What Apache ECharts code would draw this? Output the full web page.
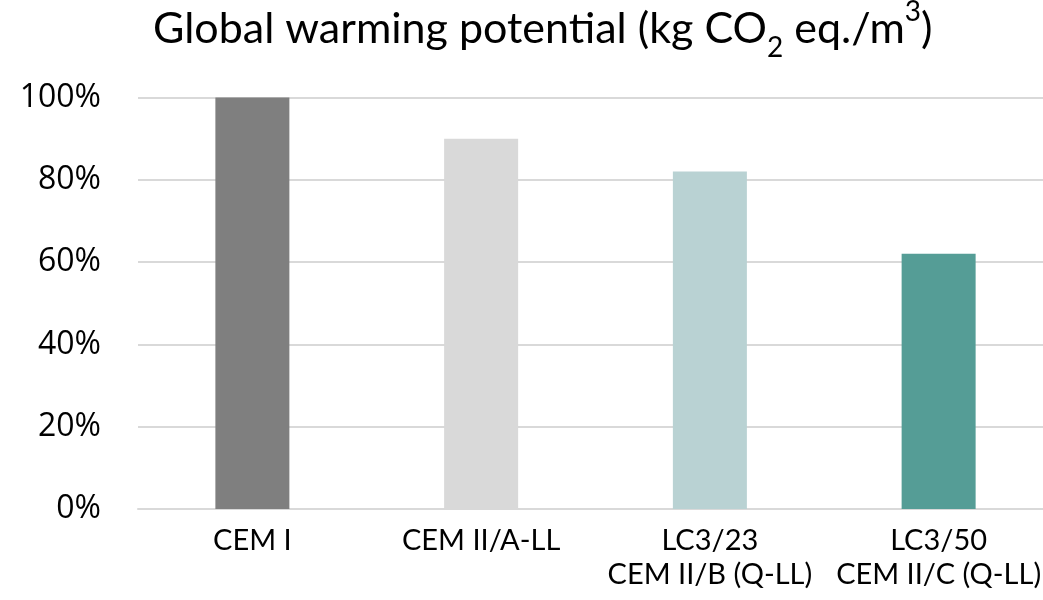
<!DOCTYPE html>
<html>
<head>
<meta charset="utf-8">
<title>Global warming potential</title>
<script src="https://cdn.jsdelivr.net/npm/echarts@6/dist/echarts.min.js"></script>
<style>
  html, body { margin: 0; padding: 0; background: #ffffff; overflow: hidden; }
  #chart { width: 1043px; height: 600px; }
</style>
</head>
<body>
<div id="chart"></div>
<script>
// Cement types and their relative global warming potential (% of CEM I)
const categories = ['CEM I', 'CEM II/A-LL', 'LC3/23\nCEM II/B (Q-LL)', 'LC3/50\nCEM II/C (Q-LL)'];
const gwpValues = [100, 90, 82, 62];
const barColors = ['#7f7f7f', '#d9d9d9', '#b9d2d3', '#559d96'];
const yTicks = [0, 20, 40, 60, 80, 100];

const chart = echarts.init(document.getElementById('chart'), null, { renderer: 'canvas' });

chart.setOption({
  backgroundColor: '#ffffff',
  animation: false,
  title: {
    text: 'Global warming potential (kg CO{sub|2} eq./m{sup|3})',
    left: 148,
    top: -3,
    textStyle: {
      fontFamily: 'Lato',
      fontSize: 43,
      fontWeight: 'normal',
      color: '#000000',
      lineHeight: 54,
      rich: {
        sub: { fontFamily: 'Lato', fontSize: 28, color: '#000000', verticalAlign: 'bottom', lineHeight: 34, padding: [0, 0, -6, 0] },
        sup: { fontFamily: 'Lato', fontSize: 28, color: '#000000', verticalAlign: 'top', lineHeight: 34, padding: [-4, 0, 0, 0] }
      }
    }
  },
  // plot area continues slightly past the right edge of the canvas
  grid: { left: 138, width: 915, top: 97.5, bottom: 91, outerBoundsMode: 'none' },
  xAxis: {
    type: 'category',
    data: categories,
    axisTick: { show: false },
    axisLine: { show: true, lineStyle: { color: '#d9d9d9', width: 2 } },
    axisLabel: {
      interval: 0,
      margin: 15,
      fontFamily: 'Lato',
      fontSize: 29,
      lineHeight: 34,
      color: '#000000'
    }
  },
  yAxis: {
    type: 'value',
    min: yTicks[0],
    max: yTicks[yTicks.length - 1],
    interval: 20,
    axisLine: { show: false },
    axisTick: { show: false },
    splitLine: { show: true, lineStyle: { color: '#d9d9d9', width: 2 } },
    axisLabel: {
      margin: 37,
      fontFamily: 'Open Sans',
      fontSize: 32,
      color: '#000000',
      formatter: v => v + '%'
    }
  },
  series: [{
    type: 'bar',
    data: gwpValues.map((v, i) => ({ value: v, itemStyle: { color: barColors[i] } })),
    barWidth: 74
  }]
});
</script>
</body>
</html>
